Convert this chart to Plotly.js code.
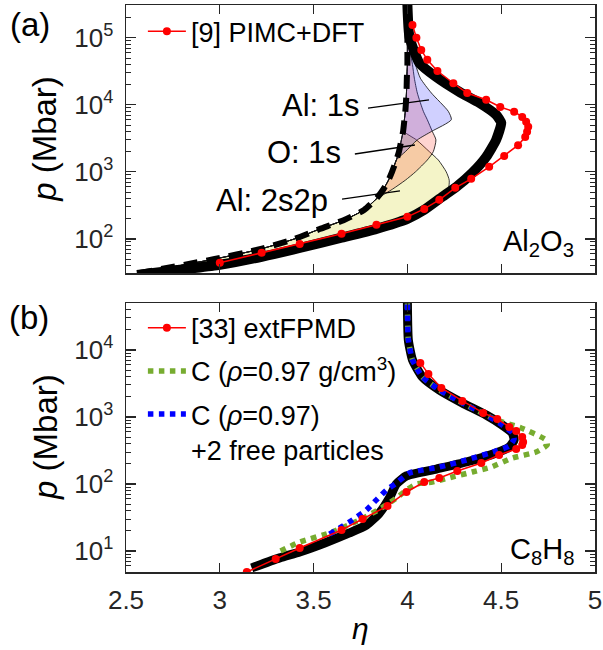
<!DOCTYPE html>
<html>
<head>
<meta charset="utf-8">
<script src="https://cdn.plot.ly/plotly-3.0.1.min.js"></script>
<style>
  html, body { margin: 0; padding: 0; background: #fff; }
  #chart { width: 603px; height: 650px; }
</style>
</head>
<body>
<div id="chart"></div>
<script>
// ---------- (a) Al2O3 ----------
// model Hugoniot (thick solid)
const alModelEta = [2.559, 2.787, 3.0, 3.223, 3.426, 3.649, 3.835, 4.0, 4.090, 4.186, 4.261, 4.346, 4.420, 4.473, 4.500, 4.473, 4.383, 4.277, 4.154, 4.064, 4.011, 4.0];
const alModelP   = [29, 34.5, 41, 54, 73, 104, 141, 199, 271, 424, 597, 966, 1670, 3000, 5400, 7100, 10700, 15600, 26000, 42000, 103000, 310000];

// [9] PIMC+DFT
const alPimcEta = [3.0, 3.223, 3.426, 3.649, 3.835, 4.0, 4.090, 4.170, 4.255, 4.340, 4.436, 4.516, 4.590, 4.628, 4.638, 4.644, 4.633, 4.612, 4.569, 4.495, 4.420, 4.319, 4.245, 4.160, 4.106, 4.074, 4.048, 4.027];
const alPimcP   = [44, 62, 84, 119, 162, 213, 280, 382, 577, 787, 1190, 1730, 2500, 3300, 3950, 4700, 5600, 6600, 7900, 9300, 11900, 15000, 21000, 32000, 47000, 66000, 100000, 156000];

// shell-resolved contributions on a common pressure grid
const shellP       = [300000, 200000, 100000, 60000, 40000, 25000, 15000, 8000, 6000, 4000, 3000, 2000, 1500, 1000, 750, 550, 400, 270, 190, 140, 100, 70, 50, 31];
const shellBaseEta = [4.0, 4.0, 4.0, 4.0, 4.0, 3.997, 3.995, 3.989, 3.984, 3.977, 3.968, 3.955, 3.941, 3.918, 3.899, 3.872, 3.835, 3.769, 3.660, 3.532, 3.399, 3.213, 2.973, 2.574];
const al1sEta      = [4.0, 4.0, 4.011, 4.027, 4.043, 4.069, 4.128, 4.218, 4.234, 4.128, 4.053, 3.989, 3.941, 3.918, 3.899, 3.872, 3.835, 3.769, 3.660, 3.532, 3.399, 3.213, 2.973, 2.574];
const o1sEta       = [4.0, 4.0, 4.005, 4.016, 4.027, 4.037, 4.053, 4.085, 4.106, 4.133, 4.152, 4.138, 4.106, 4.043, 3.989, 3.920, 3.840, 3.769, 3.660, 3.532, 3.399, 3.213, 2.973, 2.574];
const al2s2pEta    = [4.0, 4.0, 4.0, 4.0, 4.0, 3.997, 3.995, 3.989, 3.984, 3.984, 4.048, 4.117, 4.165, 4.207, 4.223, 4.218, 4.176, 4.085, 3.984, 3.840, 3.638, 3.420, 3.176, 2.580];

// ---------- (b) C8H8 ----------
const chModelEta = [3.170, 3.319, 3.426, 3.559, 3.691, 3.782, 3.851, 3.904, 3.941, 3.995, 4.154, 4.314, 4.473, 4.543, 4.569, 4.559, 4.505, 4.420, 4.293, 4.170, 4.080, 4.027, 4.005, 4.0];
const chModelP   = [5.6, 7.9, 9.7, 13.2, 18.6, 24.4, 36.9, 61.8, 100, 132, 167, 213, 290, 357, 454, 577, 760, 1070, 1620, 2530, 3950, 7100, 14100, 50200];

const chFpmdEta = [3.144, 3.298, 3.426, 3.649, 3.761, 3.894, 3.995, 4.090, 4.170, 4.266, 4.394, 4.489, 4.580, 4.612, 4.617, 4.612, 4.580, 4.543, 4.479, 4.404, 4.293, 4.181, 4.112, 4.069];
const chFpmdP   = [4.86, 7.6, 11.1, 20.6, 30.1, 47, 76, 107, 123, 156, 206, 271, 333, 382, 424, 503, 618, 710, 934, 1148, 1734, 2710, 4390, 6400];

const cEta = [3.324, 3.426, 3.585, 3.745, 3.862, 3.941, 3.995, 4.048, 4.133, 4.239, 4.346, 4.447, 4.559, 4.686, 4.745, 4.739, 4.606, 4.473, 4.293, 4.170, 4.080, 4.027, 4.005, 4.0];
const cP   = [10, 13.6, 18.6, 29, 43.8, 61.8, 81, 100, 107, 127, 151, 179, 244, 300, 382, 454, 686, 902, 1620, 2530, 3950, 7100, 14100, 50200];

const cFreeEta = [3.585, 3.638, 3.707, 3.782, 3.835, 3.888, 3.941, 4.011, 4.170, 4.314, 4.473, 4.543, 4.569, 4.559, 4.505, 4.420, 4.293, 4.170, 4.080, 4.027, 4.005, 4.0];
const cFreeP   = [17.9, 22, 29, 41, 58, 81, 103, 146, 179, 228, 311, 369, 470, 577, 760, 1072, 1620, 2530, 3950, 7100, 14100, 50200];

// axis ticks
const etaTicks = [2.5, 3, 3.5, 4, 4.5, 5];
const pTicksA = [1e2, 1e3, 1e4, 1e5];
const pTicksB = [1e1, 1e2, 1e3, 1e4];

const FONT = 'Liberation Sans, Arial, Helvetica, sans-serif';
const INK = '#262626';

function shellPolygon(edge) {
  return {
    x: edge.concat(shellBaseEta.slice().reverse()),
    y: shellP.concat(shellP.slice().reverse())
  };
}

function powLabel(v) {
  return '10<sup>' + Math.round(Math.log10(v)) + '</sup>';
}

const minorVals = [];
for (let d = 0; d <= 5; d++) {
  for (let k = 2; k <= 9; k++) minorVals.push(k * Math.pow(10, d));
}

const shells = [
  { eta: al2s2pEta, color: 'rgba(225,225,110,0.38)' },
  { eta: o1sEta,    color: 'rgba(255,60,40,0.22)' },
  { eta: al1sEta,   color: 'rgba(60,60,255,0.24)' }
];

const traces = [];
shells.forEach(s => {
  const poly = shellPolygon(s.eta);
  traces.push({
    x: poly.x, y: poly.y, xaxis: 'x', yaxis: 'y',
    type: 'scatter', mode: 'lines', fill: 'toself',
    fillcolor: s.color,
    line: { color: 'rgba(20,20,20,0.85)', width: 1, shape: 'spline', smoothing: 0.6 },
    showlegend: false, hoverinfo: 'skip'
  });
});

traces.push({
  x: shellBaseEta, y: shellP, xaxis: 'x', yaxis: 'y',
  type: 'scatter', mode: 'lines',
  line: { color: '#000', width: 6, dash: '14px,9px', shape: 'spline', smoothing: 0.6 },
  showlegend: false, hoverinfo: 'skip'
});

traces.push({
  x: alModelEta, y: alModelP, xaxis: 'x', yaxis: 'y',
  type: 'scatter', mode: 'lines',
  line: { color: '#000', width: 10, shape: 'spline', smoothing: 0.5 },
  showlegend: false, hoverinfo: 'skip'
});

traces.push({
  x: alPimcEta, y: alPimcP, xaxis: 'x', yaxis: 'y',
  type: 'scatter', mode: 'lines+markers', name: '[9] PIMC+DFT',
  line: { color: '#ff0000', width: 1.5 },
  marker: { color: '#ff0000', size: 8 },
  legend: 'legend'
});

// panel (b)
traces.push({
  x: chModelEta, y: chModelP, xaxis: 'x2', yaxis: 'y2',
  type: 'scatter', mode: 'lines',
  line: { color: '#000', width: 9, shape: 'spline', smoothing: 0.5 },
  showlegend: false, hoverinfo: 'skip'
});

traces.push({
  x: cEta, y: cP, xaxis: 'x2', yaxis: 'y2',
  type: 'scatter', mode: 'lines', name: 'C (<i>ρ</i>=0.97 g/cm<sup>3</sup>)',
  line: { color: '#77ac30', width: 5.5, dash: 'dot', shape: 'spline', smoothing: 0.5 },
  legend: 'legend2', legendrank: 2, legendgroup: 'g2'
});

traces.push({
  x: cFreeEta, y: cFreeP, xaxis: 'x2', yaxis: 'y2',
  type: 'scatter', mode: 'lines', name: 'C (<i>ρ</i>=0.97)<br>+2 free particles',
  line: { color: '#0000ff', width: 5.5, dash: 'dot', shape: 'spline', smoothing: 0.5 },
  legend: 'legend2', legendrank: 3, legendgroup: 'g3'
});

traces.push({
  x: chFpmdEta, y: chFpmdP, xaxis: 'x2', yaxis: 'y2',
  type: 'scatter', mode: 'lines+markers', name: '[33] extFPMD',
  line: { color: '#ff0000', width: 1.5 },
  marker: { color: '#ff0000', size: 8 },
  legend: 'legend2', legendrank: 1, legendgroup: 'g1'
});

const baseX = {
  range: [2.5, 5], tickvals: etaTicks, tickmode: 'array',
  ticks: 'inside', ticklen: 9, tickwidth: 1.3, tickcolor: INK,
  showline: true, linecolor: INK, linewidth: 1.5, mirror: 'ticks',
  showgrid: false, zeroline: false,
  tickfont: { family: FONT, size: 26, color: INK }
};
function baseY(ticks, range, domain) {
  return {
    type: 'log', range: range, domain: domain,
    tickmode: 'array', tickvals: ticks, ticktext: ticks.map(powLabel),
    ticks: 'inside', ticklen: 10, tickwidth: 1.3, tickcolor: INK,
    minor: { tickmode: 'array', tickvals: minorVals, ticks: 'inside', ticklen: 5, tickwidth: 1, tickcolor: INK, showgrid: false },
    showline: true, linecolor: INK, linewidth: 1.5, mirror: 'ticks',
    showgrid: false, zeroline: false,
    ticklabelstandoff: 6,
    tickfont: { family: FONT, size: 26, color: INK }
  };
}

const labelFont = { family: FONT, size: 31, color: '#000' };
const formulaFont = { family: FONT, size: 29, color: '#000' };
const panelFont = { family: FONT, size: 33, color: '#000' };
const titleFont = { family: FONT, size: 33, color: '#000' };
const etaFont = { family: FONT, size: 30, color: '#000' };
const legendFont = { family: FONT, size: 27, color: '#000' };

function paperText(text, x, y, font, extra) {
  return Object.assign({
    text: text, xref: 'paper', yref: 'paper', x: x, y: y,
    xanchor: 'center', yanchor: 'middle', showarrow: false, font: font
  }, extra || {});
}
function leader(x0, y0, x1, y1) {
  return { type: 'line', xref: 'paper', yref: 'paper', x0: x0, y0: y0, x1: x1, y1: y1, line: { color: '#000', width: 1.3 } };
}

const layout = {
  width: 603, height: 650,
  margin: { l: 126, r: 8, t: 5, b: 78 },
  paper_bgcolor: '#fff', plot_bgcolor: '#fff',
  showlegend: true,
  xaxis: Object.assign({}, baseX, { anchor: 'y', showticklabels: false }),
  yaxis: baseY(pTicksA, [1.49, 5.49], [0.5273, 1]),
  xaxis2: Object.assign({}, baseX, { anchor: 'y2', ticklabelstandoff: 4 }),
  yaxis2: baseY(pTicksB, [0.687, 4.70], [0, 0.4744]),
  legend: {
    x: 0.036, y: 0.996, xanchor: 'left', yanchor: 'top',
    bgcolor: 'rgba(0,0,0,0)', borderwidth: 0,
    font: legendFont, itemwidth: 38
  },
  legend2: {
    x: 0.036, y: 0.473, xanchor: 'left', yanchor: 'top',
    bgcolor: 'rgba(0,0,0,0)', borderwidth: 0,
    font: legendFont,
    itemwidth: 38, traceorder: 'grouped', tracegroupgap: 5, valign: 'top'
  },
  shapes: [
    leader(0.516, 0.8183, 0.646, 0.8325),
    leader(0.488, 0.7372, 0.616, 0.7531),
    leader(0.4606, 0.6578, 0.5842, 0.6720)
  ],
  annotations: [
    paperText('(a)', -0.205, 0.965, panelFont),
    paperText('(b)', -0.207, 0.448, panelFont),
    paperText('<i>p</i> (Mbar)', -0.173, 0.7637, titleFont, { textangle: -90 }),
    paperText('<i>p</i> (Mbar)', -0.173, 0.238, titleFont, { textangle: -90 }),
    paperText('<i>η</i>', 0.499, -0.1, etaFont),
    paperText('Al<sub>2</sub>O<sub>3</sub>', 0.959, 0.58, formulaFont, { xanchor: 'right' }),
    paperText('C<sub>8</sub>H<sub>8</sub>', 0.959, 0.037, formulaFont, { xanchor: 'right' }),
    paperText('Al: 1s', 0.503, 0.8236, labelFont, { xanchor: 'right' }),
    paperText('O: 1s', 0.4627, 0.739, labelFont, { xanchor: 'right' }),
    paperText('Al: 2s2p', 0.435, 0.656, labelFont, { xanchor: 'right' })
  ]
};

Plotly.newPlot('chart', traces, layout, { staticPlot: true, displayModeBar: false });
</script>
</body>
</html>
